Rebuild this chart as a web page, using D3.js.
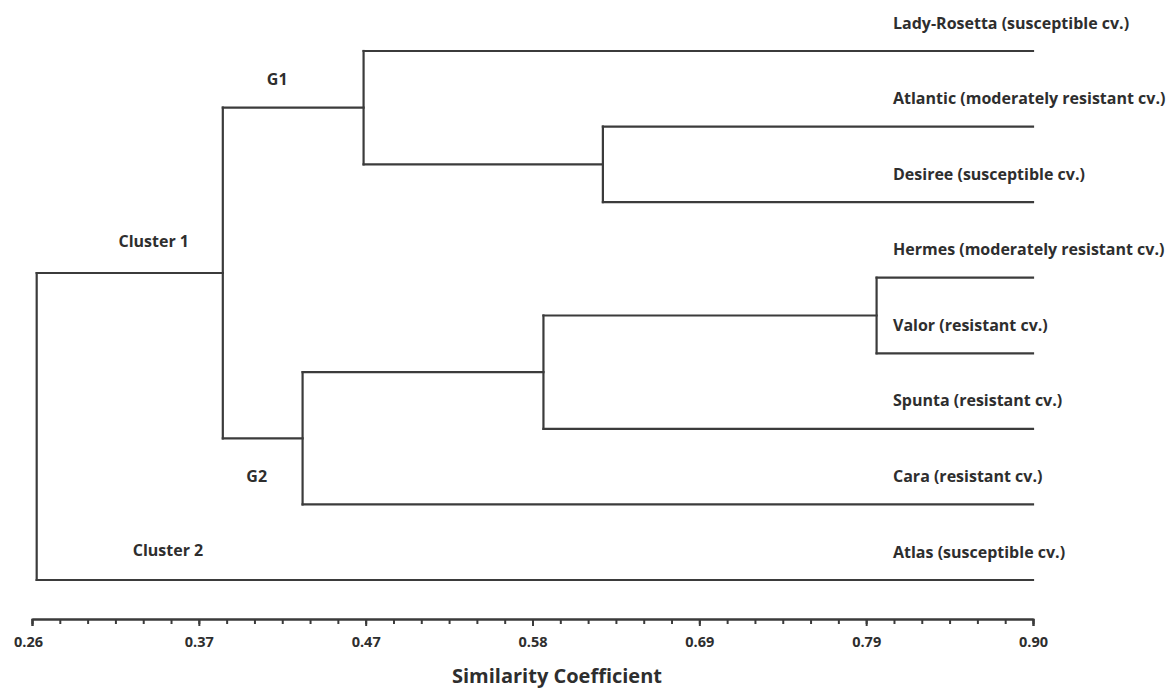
<!DOCTYPE html>
<html>
<head>
<meta charset="utf-8">
<script src="https://cdn.jsdelivr.net/npm/d3@7"></script>
<style>
    body { margin: 0; background: #fff; }
    text { font-family: "Open Sans", Lato, sans-serif; fill: #2e2e2e; }
</style>
</head>
<body>
<div id="chart"></div>
<script>
// leaves, top to bottom
const cultivars = ["Lady-Rosetta", "Atlantic", "Desiree", "Hermes", "Valor", "Spunta", "Cara", "Atlas"];
const resistance = ["susceptible", "moderately resistant", "susceptible", "moderately resistant",
    "resistant", "resistant", "resistant", "susceptible"];

// internal nodes of the dendrogram (merge order) and their similarity level
const clusterNodes = ["AD", "HV", "HVS", "G2", "G1", "Cluster 1", "root"];
const clusterChildren = [
    ["Atlantic", "Desiree"],
    ["Hermes", "Valor"],
    ["HV", "Spunta"],
    ["HVS", "Cara"],
    ["Lady-Rosetta", "AD"],
    ["G1", "G2"],
    ["Cluster 1", "Atlas"]
];
const clusterSimilarity = [0.625, 0.800, 0.587, 0.433, 0.472, 0.382, 0.263];

// axis
const axisDomain = [0.26, 0.90];
const axisTickLabels = ["0.26", "0.37", "0.47", "0.58", "0.69", "0.79", "0.90"];
const minorPerMajor = 6;
const axisTitle = "Similarity Coefficient";

// group annotations, attached to a node name
const groupLabels = ["G1", "Cluster 1", "G2", "Cluster 2"];
const groupNodes = ["G1", "Cluster 1", "G2", "Atlas"];


function buildTree(name) {
    const i = clusterNodes.indexOf(name);
    if (i < 0) {
        const li = cultivars.indexOf(name);
        return { name: name, sim: axisDomain[1], label: name + " (" + resistance[li] + " cv.)" };
    }
    return { name: name, sim: clusterSimilarity[i], children: clusterChildren[i].map(buildTree) };
}

const width = 1174, height = 688;
const svg = d3.select("#chart").append("svg")
    .attr("width", width)
    .attr("height", height);

const x = d3.scaleLinear().domain(axisDomain).range([32, 1033]);
const y = d3.scalePoint().domain(cultivars).range([51, 580]);

const root = d3.hierarchy(buildTree("root"));
//place leaves first, then parents at the middle of their children
root.eachAfter(node => {
    if (!node.children) {
        node.py = y(node.data.name);
    } else {
        node.py = (node.children[0].py + node.children[node.children.length - 1].py) / 2;
    }
    node.px = x(node.data.sim);
});

const tree = svg.append("g")
    .attr("fill", "none")
    .attr("stroke", "#3b3b3b")
    .attr("stroke-width", 2.2)
    .attr("stroke-linecap", "square");

root.descendants().filter(n => n.children).forEach(node => {
    const first = node.children[0];
    const last = node.children[node.children.length - 1];
    tree.append("line")
        .attr("x1", node.px).attr("x2", node.px)
        .attr("y1", first.py).attr("y2", last.py);
    for (let child of node.children) {
        tree.append("line")
            .attr("x1", node.px).attr("x2", child.px)
            .attr("y1", child.py).attr("y2", child.py);
    }
});

// leaf labels
svg.append("g").selectAll("text")
    .data(root.leaves())
    .join("text")
    .attr("x", d => d.px - 140)
    .attr("y", d => d.py - 22.5)
    .attr("font-size", 16)
    .attr("font-weight", 700)
    .text(d => d.data.label);

// group labels, offset from the middle of the branch that leads into the node
const labelOffset = {
    "G1": [-16, -27],
    "Cluster 1": [24, -30],
    "G2": [-6, 39],
    "Cluster 2": [168, -28]
};
groupLabels.forEach((label, i) => {
    const node = root.descendants().find(n => n.data.name === groupNodes[i]);
    let cx;
    if (label === "Cluster 2") {
        cx = 0;
    } else {
        cx = (node.parent.px + node.px) / 2;
    }
    svg.append("text")
        .attr("x", cx + labelOffset[label][0])
        .attr("y", node.py + labelOffset[label][1])
        .attr("text-anchor", "middle")
        .attr("dominant-baseline", "middle")
        .attr("font-size", 16)
        .attr("font-weight", 700)
        .text(label);
});

// axis
const axisY = 619;
const majorTicks = d3.range(axisTickLabels.length).map(i => axisDomain[0] + i * (axisDomain[1] - axisDomain[0]) / (axisTickLabels.length - 1));
const minorTicks = d3.range((axisTickLabels.length - 1) * minorPerMajor + 1)
    .map(i => axisDomain[0] + i * (axisDomain[1] - axisDomain[0]) / ((axisTickLabels.length - 1) * minorPerMajor));

const minorAxis = svg.append("g")
    .attr("transform", `translate(0,${axisY})`)
    .call(d3.axisBottom(x).tickValues(minorTicks).tickSize(5).tickSizeOuter(0).tickFormat(""));

const majorAxis = svg.append("g")
    .attr("transform", `translate(0,${axisY})`)
    .call(d3.axisBottom(x).tickValues(majorTicks).tickSize(7).tickSizeOuter(7).tickPadding(11)
        .tickFormat((d, i) => axisTickLabels[i]));

[minorAxis, majorAxis].forEach(g => {
    g.selectAll("path, line").attr("stroke", "#3b3b3b").attr("stroke-width", 2);
});
majorAxis.selectAll("text")
    .attr("font-family", "'Open Sans', sans-serif")
    .attr("font-size", 14.5)
    .attr("font-weight", 700)
    .attr("fill", "#333");
majorAxis.selectAll(".tick text").filter((d, i) => i === 0).attr("dx", -4);

svg.append("text")
    .attr("x", 557)
    .attr("y", 683)
    .attr("text-anchor", "middle")
    .attr("font-size", 20)
    .attr("font-weight", 700)
    .text(axisTitle);
</script>
</body>
</html>
